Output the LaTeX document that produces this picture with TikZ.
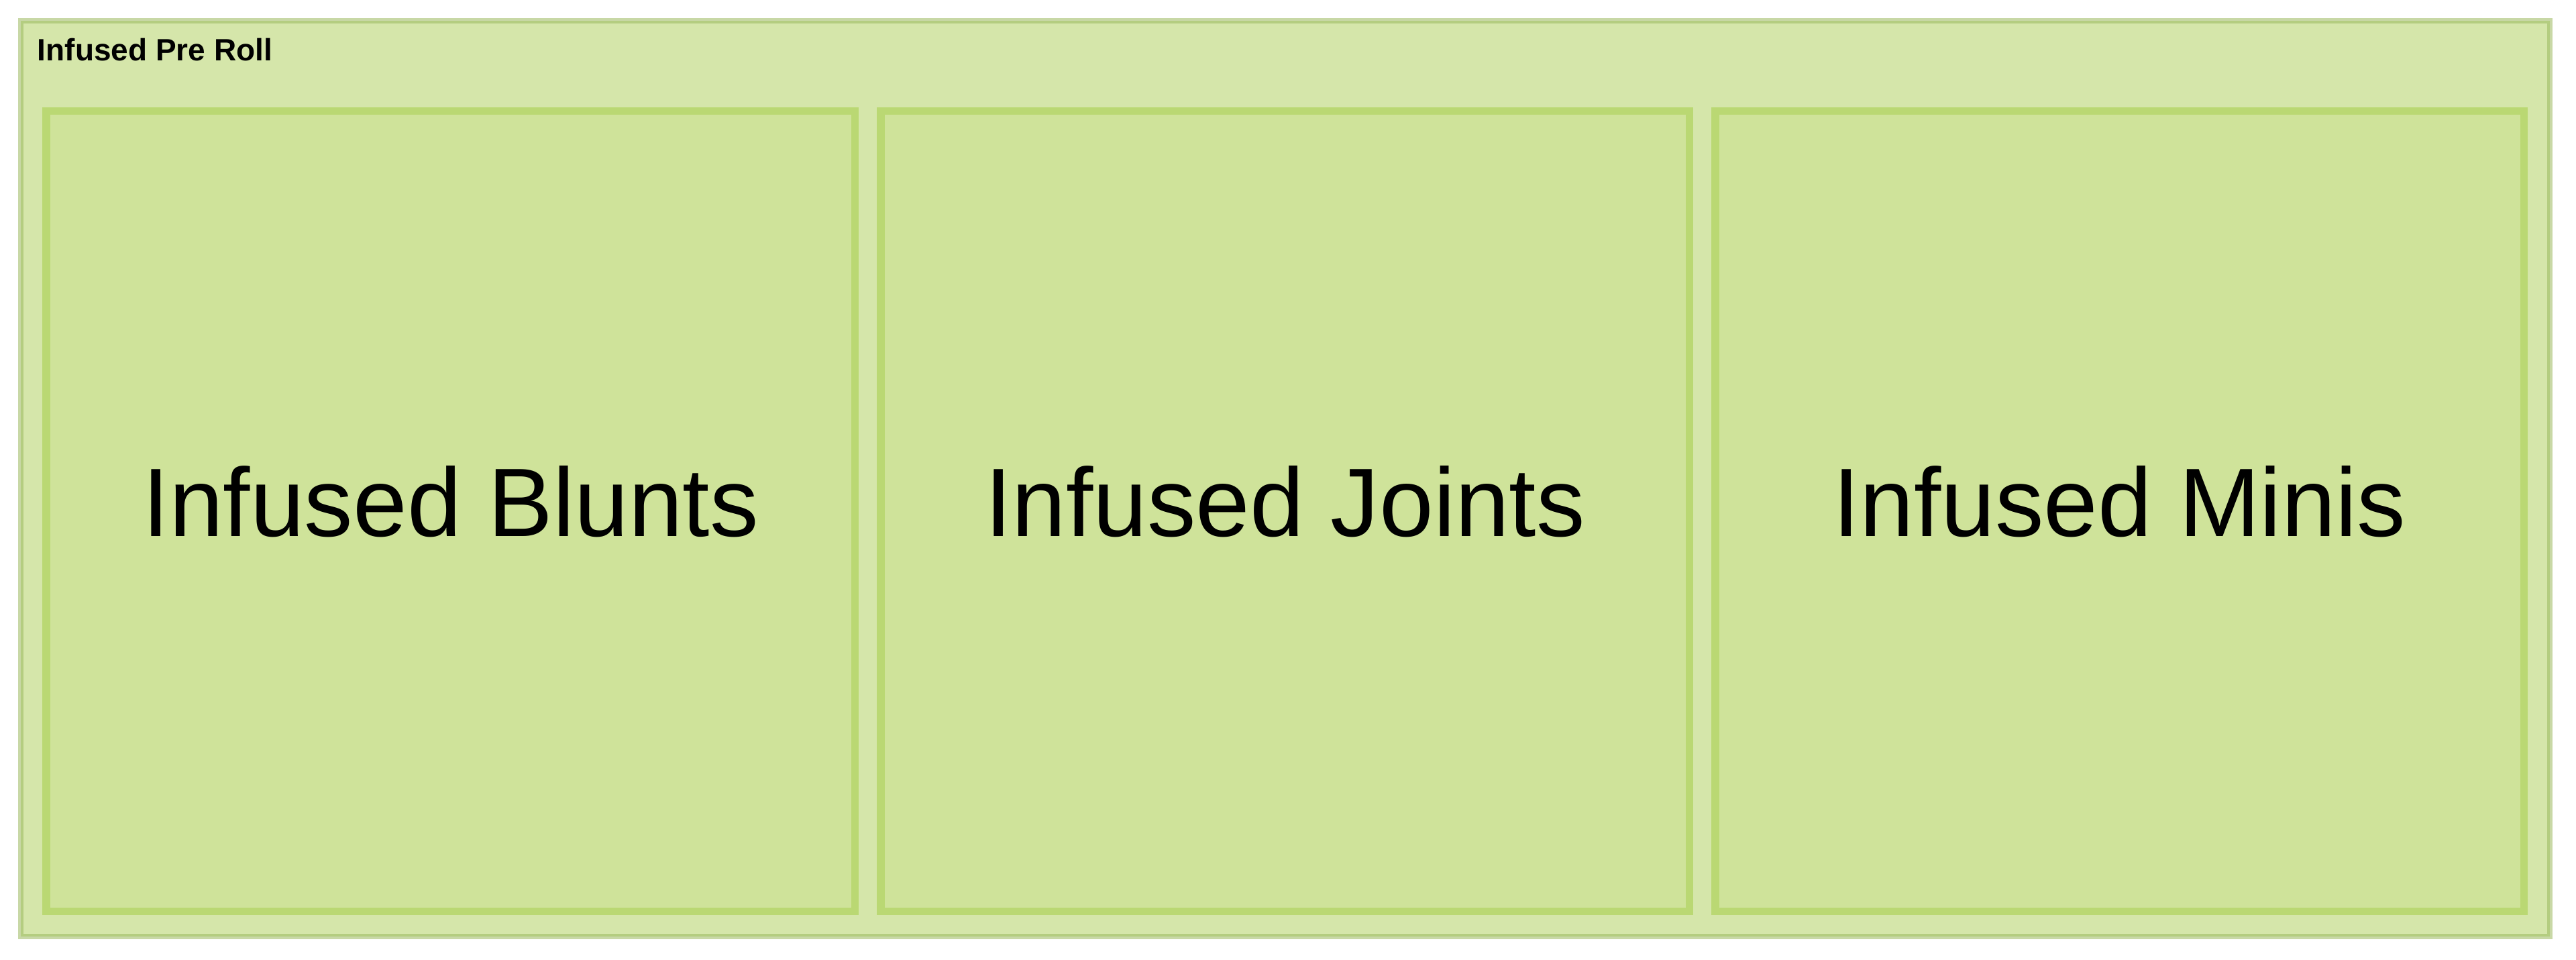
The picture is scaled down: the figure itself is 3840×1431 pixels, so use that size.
\documentclass[tikz,border=0pt]{standalone}
\usepackage{fontspec}
\setmainfont{Liberation Sans}
\definecolor{outerfill}{HTML}{D5E6AA}
\definecolor{outerlight}{HTML}{C8D8A6}
\definecolor{outerdark}{HTML}{B4CD80}
\definecolor{boxfill}{HTML}{CFE39A}
\definecolor{boxline}{HTML}{BAD873}
\begin{document}
\begin{tikzpicture}[x=0.25pt,y=-0.25pt,
  box/.style={draw=boxline, fill=boxfill, line width=2.875pt, rectangle,
    minimum width=301.375pt, minimum height=298.125pt, inner sep=0pt, outer sep=0pt},
  lbl/.style={font=\fontsize{36.25}{40}\selectfont, text=black, inner sep=0pt, anchor=base},
  ttl/.style={font=\bfseries\fontsize{11.5}{13}\selectfont, text=black, inner sep=0pt, anchor=base west}]
\useasboundingbox (0,0) rectangle (3840,1431);
% container
\fill[outerfill] (27,27) rectangle (3805,1400);
\draw[outerlight, line width=2pt] (31,31) rectangle (3801,1396);
\draw[outerdark, line width=1pt] (33,33) rectangle (3799,1394);
\node[ttl] (title) at (55,91) {Infused Pre Roll};
% boxes
\node[box] (b1) at (671.5,762) {};
\node[box] (b2) at (1915.5,762) {};
\node[box] (b3) at (3159.5,762) {};
\node[lbl, yshift=-9.5pt] (t1) at (b1.center) {Infused Blunts};
\node[lbl, yshift=-9.5pt] (t2) at (b2.center) {Infused Joints};
\node[lbl, yshift=-9.5pt] (t3) at (b3.center) {Infused Minis};
\end{tikzpicture}
\end{document}
